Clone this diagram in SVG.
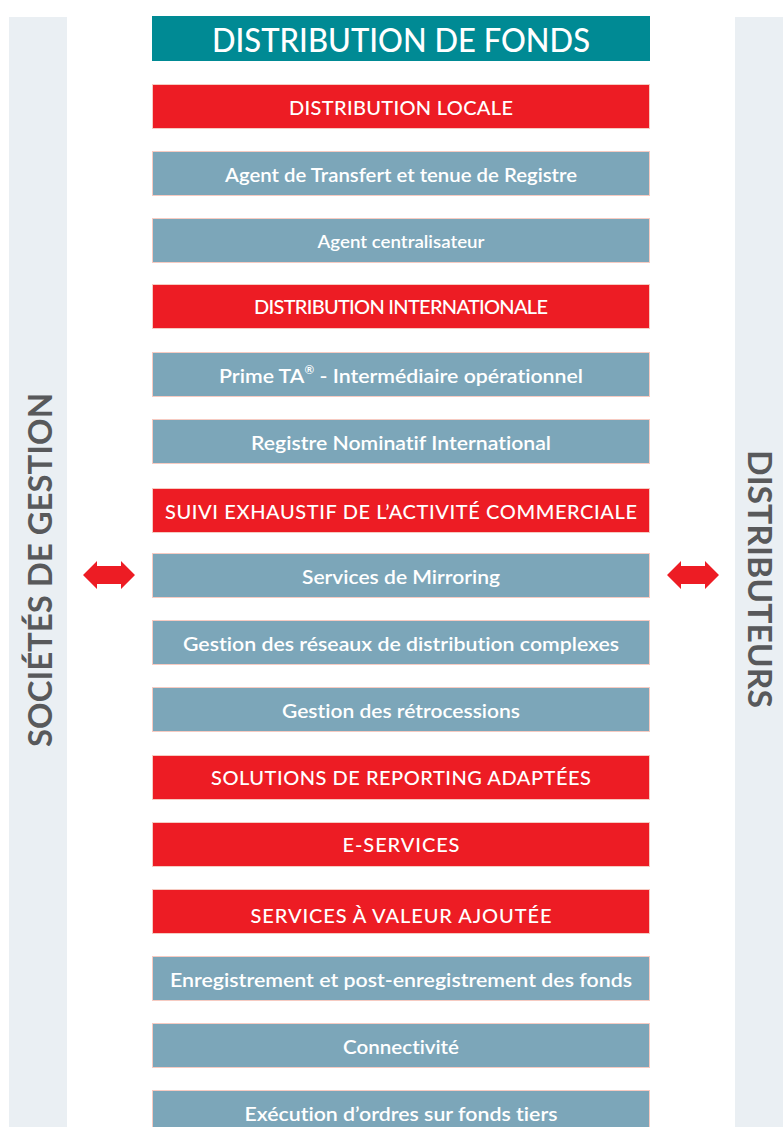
<svg xmlns="http://www.w3.org/2000/svg" xmlns:xlink="http://www.w3.org/1999/xlink" width="783" height="1127" viewBox="0 0 783 1127">
<style>
text{font-variant-ligatures:none;font-feature-settings:"liga" 0,"clig" 0}
.side{fill:#eaeff3}
.sidet{fill:#58595b;font-family:Lato,"Open Sans","Liberation Sans",sans-serif;font-size:33px;font-weight:700}
.title{fill:#008a94;stroke:none}
.red{fill:#ed1c24;stroke:#f6cbc2;stroke-width:1}
.blue{fill:#7ca6b9;stroke:#f6cbc2;stroke-width:1}
.tt{fill:#fff;font-family:Lato,"Open Sans","Liberation Sans",sans-serif;font-size:32px;font-weight:500;text-anchor:middle}
.rt{fill:#fff;font-family:Lato,"Open Sans","Liberation Sans",sans-serif;font-size:20px;font-weight:500;text-anchor:middle}
.bt{fill:#fff;font-family:Lato,"Open Sans","Liberation Sans",sans-serif;font-size:20px;font-weight:600;text-anchor:middle}
.arr{fill:#ed1c24}
</style>
<defs>
<polygon id="dbl" points="0,14 14,0 14,5 38,5 38,0 52,14 38,28 38,23 14,23 14,28"/>
</defs>
<rect width="783" height="1127" fill="#fff"/>
<g id="side-left">
<rect class="side" x="9" y="17" width="58" height="1110"/>
<text class="sidet" transform="translate(52,570) rotate(-90)" text-anchor="middle" textLength="354" lengthAdjust="spacingAndGlyphs">SOCIÉTÉS DE GESTION</text>
</g>
<g id="side-right">
<rect class="side" x="735" y="17" width="48" height="1110"/>
<text class="sidet" transform="translate(748,579) rotate(90)" text-anchor="middle" textLength="258" lengthAdjust="spacingAndGlyphs">DISTRIBUTEURS</text>
</g>
<g id="n-title"><rect class="title" x="152" y="16" width="498" height="45"/><text class="tt" x="401" y="52" textLength="378" lengthAdjust="spacingAndGlyphs">DISTRIBUTION DE FONDS</text></g>
<g id="n1"><rect class="red" x="152.5" y="84.5" width="497" height="44"/><text class="rt" x="401" y="115" textLength="224" lengthAdjust="spacing">DISTRIBUTION LOCALE</text></g>
<g id="n2"><rect class="blue" x="152.5" y="151.5" width="497" height="44"/><text class="bt" x="401" y="182" textLength="352" lengthAdjust="spacingAndGlyphs">Agent de Transfert et tenue de Registre</text></g>
<g id="n3"><rect class="blue" x="152.5" y="218.5" width="497" height="44"/><text class="bt" x="401" y="248" textLength="167" lengthAdjust="spacingAndGlyphs" style="font-size:18px">Agent centralisateur</text></g>
<g id="n4"><rect class="red" x="152.5" y="284.5" width="497" height="44"/><text class="rt" x="401" y="314" textLength="294" lengthAdjust="spacing">DISTRIBUTION INTERNATIONALE</text></g>
<g id="n5"><rect class="blue" x="152.5" y="352.5" width="497" height="44"/><text class="bt" x="401" y="383" textLength="364" lengthAdjust="spacingAndGlyphs">Prime TA<tspan font-size="11" dy="-9">®</tspan><tspan dy="9"> - Intermédiaire opérationnel</tspan></text></g>
<g id="n6"><rect class="blue" x="152.5" y="419.5" width="497" height="44"/><text class="bt" x="401" y="450" textLength="300" lengthAdjust="spacingAndGlyphs">Registre Nominatif International</text></g>
<g id="n7"><rect class="red" x="152.5" y="488.5" width="497" height="44"/><text class="rt" x="401" y="519" textLength="472" lengthAdjust="spacing">SUIVI EXHAUSTIF DE L’ACTIVITÉ COMMERCIALE</text></g>
<g id="n8"><rect class="blue" x="152.5" y="553.5" width="497" height="44"/><text class="bt" x="401" y="584" textLength="198" lengthAdjust="spacingAndGlyphs">Services de Mirroring</text></g>
<g id="n9"><rect class="blue" x="152.5" y="620.5" width="497" height="44"/><text class="bt" x="401" y="651" textLength="436" lengthAdjust="spacingAndGlyphs">Gestion des réseaux de distribution complexes</text></g>
<g id="n10"><rect class="blue" x="152.5" y="687.5" width="497" height="44"/><text class="bt" x="401" y="718" textLength="238" lengthAdjust="spacingAndGlyphs">Gestion des rétrocessions</text></g>
<g id="n11"><rect class="red" x="152.5" y="755.5" width="497" height="44"/><text class="rt" x="401" y="785" textLength="380" lengthAdjust="spacing">SOLUTIONS DE REPORTING ADAPTÉES</text></g>
<g id="n12"><rect class="red" x="152.5" y="822.5" width="497" height="44"/><text class="rt" x="401" y="852" textLength="117" lengthAdjust="spacing">E-SERVICES</text></g>
<g id="n13"><rect class="red" x="152.5" y="889.5" width="497" height="44"/><text class="rt" x="401" y="923" textLength="301" lengthAdjust="spacing">SERVICES À VALEUR AJOUTÉE</text></g>
<g id="n14"><rect class="blue" x="152.5" y="956.5" width="497" height="44"/><text class="bt" x="401" y="987" textLength="462" lengthAdjust="spacingAndGlyphs">Enregistrement et post-enregistrement des fonds</text></g>
<g id="n15"><rect class="blue" x="152.5" y="1023.5" width="497" height="44"/><text class="bt" x="401" y="1054" textLength="116" lengthAdjust="spacingAndGlyphs">Connectivité</text></g>
<g id="n16"><rect class="blue" x="152.5" y="1090.5" width="497" height="44"/><text class="bt" x="401" y="1121" textLength="313" lengthAdjust="spacingAndGlyphs">Exécution d’ordres sur fonds tiers</text></g>
<g id="connectors">
<use class="arr" xlink:href="#dbl" x="83" y="561"/>
<use class="arr" xlink:href="#dbl" x="667" y="561"/>
</g>
</svg>
